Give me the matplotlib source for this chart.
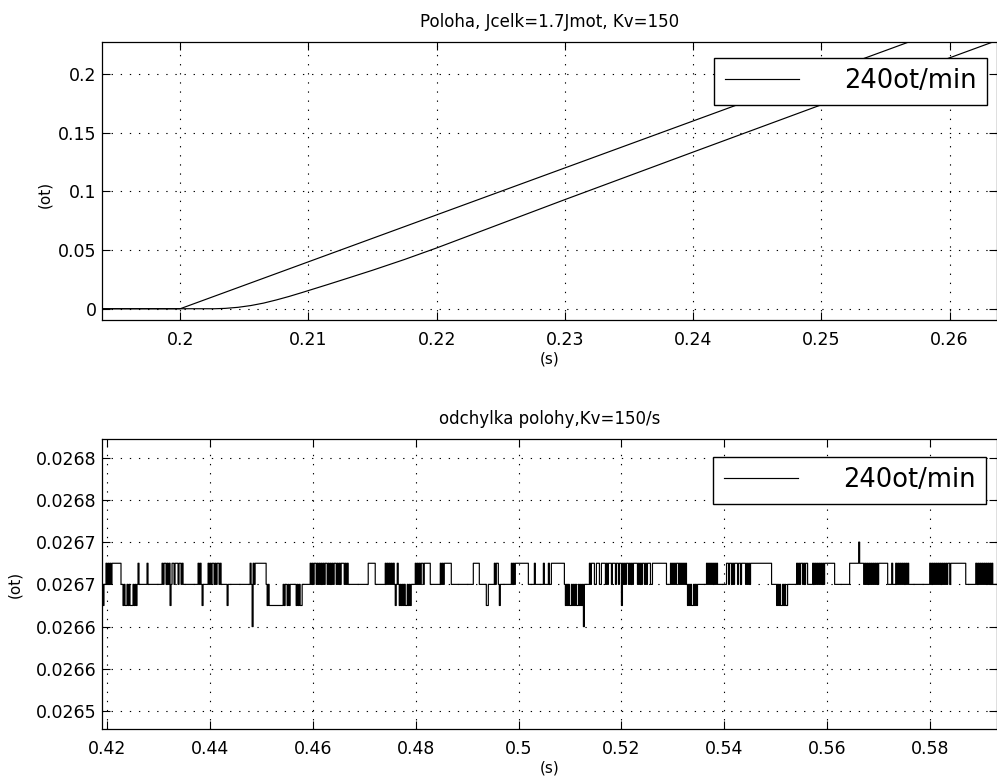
import matplotlib
matplotlib.use("Agg")
import matplotlib.pyplot as plt
from matplotlib.ticker import FuncFormatter

# ---- top plot: position (ot) vs time (s) ----
ref_t = [0.1939, 0.2, 0.2637]
ref_pos = [0.0, 0.0, 0.2548]

act_t = [0.1939, 0.2027, 0.2035, 0.2045, 0.2055, 0.2065, 0.2075, 0.2085,
         0.2095, 0.2105, 0.2115, 0.213, 0.215, 0.2175, 0.22, 0.2249, 0.23,
         0.24, 0.25, 0.26, 0.2637]
act_pos = [0.0, 0.0, 0.0003, 0.0012, 0.0027, 0.0048, 0.0075, 0.0105,
           0.0138, 0.0172, 0.0206, 0.0258, 0.0328, 0.0420, 0.0518, 0.0720,
           0.0930, 0.1335, 0.1738, 0.2138, 0.2286]

top_xticks = [0.2, 0.21, 0.22, 0.23, 0.24, 0.25, 0.26]
top_yticks = [0, 0.05, 0.1, 0.15, 0.2]

# ---- bottom plot: following error, quantised levels ----
# h/m/l = one step above / on / below the mean value, H/L = two steps
level_value = {'H': 0.0267, 'h': 0.026675, 'm': 0.02665, 'l': 0.026625, 'L': 0.0266}
dev_t0 = 0.419027      # time of first sample
dev_dt = 0.00019455    # sample spacing
dev_chunks = [
    "mlm", "mhm", "hmhm", "h" * 9, "mm", "lmllmlmlllmlml", "mhm", "m" * 7, "h",
    "m" * 14, "hmhhmhmhlm", "hhmhhhmhhmh", "m" * 15, "hmhml", "m" * 5,
    "hmhmhhmhmhhmhm", "mmmmm", "l", "m" * 22, "hmLhmh", "h" * 10, "mlml",
    "l" * 13, "mlmmlml", "m" * 6, "lmlmllm", "m" * 7,
    "hmhmhhmhmh", "mhmhmhhmhm", "hmhmhhmhmh", "mhhhmhmh",
    "m" * 20, "h" * 7, "m" * 10, "hmhmhmhm", "hmlmhmlm", "lmlmllmlml", "mmmm",
    "hmhmhmhhmh", "hhhhh", "m" * 10, "hmhmh", "h" * 6, "m" * 22, "h" * 6,
    "m" * 7, "ll", "m" * 6, "hmhh", "ml", "m" * 11, "hmhmhhh", "h" * 10,
    "m" * 6, "h", "m" * 8, "h", "mmmm", "h", "mm", "h" * 13,
    "mlmlmllmlmlmllmlmlm", "L", "m" * 5,
    "hmhhhmmhhhmmhhhhmhmhhhmhhhmhhmhhlhmhmhhmhmhmhhh",
    "hmhmhmhhmhm", "hhhmmhhhhhhhhhhhhhh", "mmmm", "hmhmhmh", "hmhmhmhmhm",
    "lmlmllmlml", "m" * 9, "hmhmhmhmhmh", "m" * 9, "hhmhhmhmhhhmhhmhhh",
    "hmhmhmh", "h" * 20, "m" * 5, "lmlmllmlmll", "m" * 9, "hmhmhhmhmhh",
    "m" * 5, "hmhmhmhmhmhmh", "h" * 9, "m" * 15, "h" * 9, "H", "hhh",
    "hmhmhmhmhmhmhmhmh", "h" * 8, "mmmmhmmm", "hmhmhmhmhmhmhm", "m" * 20,
    "hmhmhmhmhmhmhmhm", "hmhhmhh", "h" * 13, "m" * 10, "hmhmhmhmhmhmhm",
    "hmhmmmmm",
]
bot_xticks = [0.42, 0.44, 0.46, 0.48, 0.5, 0.52, 0.54, 0.56, 0.58]
bot_yticks = [0.0265, 0.02655, 0.0266, 0.02665, 0.0267, 0.02675, 0.0268]
bot_ylabels = ['0.0265', '0.0266', '0.0266', '0.0267', '0.0267', '0.0268', '0.0268']

dev_levels = "".join(dev_chunks)
dev_t = [dev_t0 + i * dev_dt for i in range(len(dev_levels))]
dev_val = [level_value[c] for c in dev_levels]

W, H = 997, 781
fig = plt.figure(figsize=(W / 100, H / 100), dpi=100)
ax1 = fig.add_axes([102 / W, 1 - 320 / H, (W - 102) / W, (320 - 42) / H])
ax2 = fig.add_axes([102 / W, 1 - 729 / H, (W - 102) / W, (729 - 439) / H])

grid_kw = dict(color='k', linestyle=(0, (1.2, 7)), linewidth=0.8)
fmt = FuncFormatter(lambda v, p: '%g' % v)

ax1.plot(ref_t, ref_pos, color='k', lw=0.85, label='240ot/min')
ax1.plot(act_t, act_pos, color='k', lw=0.85)
ax1.set_xlim(0.1939, 0.2637)
ax1.set_ylim(-0.0096, 0.2273)
ax1.set_xticks(top_xticks)
ax1.set_yticks(top_yticks)
ax1.xaxis.set_major_formatter(fmt)
ax1.yaxis.set_major_formatter(fmt)
ax1.set_title('Poloha, Jcelk=1.7Jmot, Kv=150', fontsize=12, pad=11)
ax1.set_xlabel('(s)', fontsize=11, labelpad=2)
ax1.set_ylabel('(ot)', fontsize=11)
ax1.yaxis.set_label_coords(-0.056, 0.45)

ax2.plot(dev_t, dev_val, color='k', lw=0.85, drawstyle='steps-post', label='240ot/min')
ax2.set_xlim(0.41903, 0.5930)
ax2.set_ylim(0.0264787, 0.0268222)
ax2.set_xticks(bot_xticks)
ax2.xaxis.set_major_formatter(fmt)
ax2.set_yticks(bot_yticks)
ax2.set_yticklabels(bot_ylabels)
ax2.set_title('odchylka polohy,Kv=150/s', fontsize=12, pad=11)
ax2.set_xlabel('(s)', fontsize=11, labelpad=2)
ax2.set_ylabel('(ot)', fontsize=11)
ax2.yaxis.set_label_coords(-0.089, 0.5)

for ax, anchor in ((ax1, (0.9888, 0.9424)), (ax2, (0.9877, 0.938))):
    ax.grid(True, **grid_kw)
    ax.tick_params(direction='in', top=True, right=True, length=6, width=0.8,
                   labelsize=12.5)
    ax.tick_params(axis='x', pad=8)
    ax.tick_params(axis='y', pad=4)
    for s in ax.spines.values():
        s.set_linewidth(0.9)
    leg = ax.legend(loc='upper right', bbox_to_anchor=anchor, borderaxespad=0,
                    fontsize=18.5, handlelength=2.9, handletextpad=1.75,
                    borderpad=0.4, fancybox=False, edgecolor='k', framealpha=1)
    leg.get_frame().set_linewidth(1.0)

fig.savefig('out.png', dpi=100)
